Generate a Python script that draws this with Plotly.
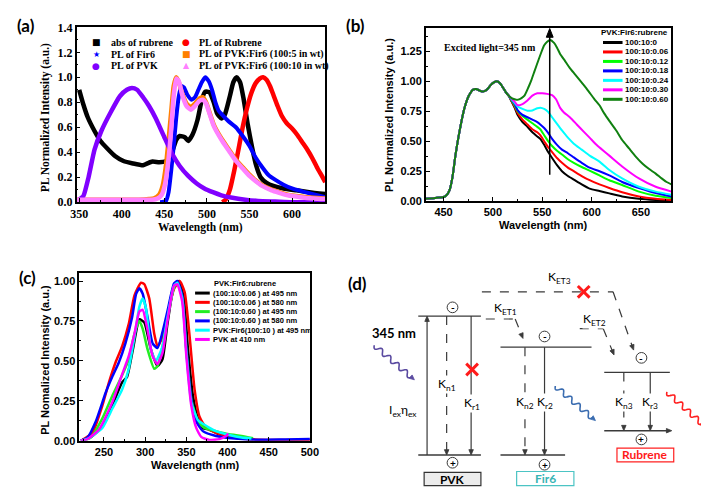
import numpy as np
import plotly.graph_objects as go

# ======================= DATA =======================
# ---- panel (a) ----
a_abs_rub_x = [350, 355, 360, 368, 375, 383, 392, 402, 413, 425, 430, 436, 444, 451, 456, 460, 464, 468, 474, 478,
               483, 489, 494, 498, 503, 508, 512, 517, 521, 527, 531, 535, 539, 543, 548, 553, 558, 563, 570, 578,
               590, 605, 620, 639]
a_abs_rub_y = [0.90, 0.78, 0.68, 0.57, 0.49, 0.43, 0.37, 0.33, 0.31, 0.295, 0.31, 0.325, 0.32, 0.325, 0.36, 0.42, 0.50,
               0.53, 0.52, 0.49, 0.54, 0.66, 0.82, 0.885, 0.88, 0.80, 0.71, 0.67, 0.70, 0.85, 0.96, 1.0, 0.96, 0.83,
               0.62, 0.44, 0.29, 0.20, 0.155, 0.13, 0.11, 0.095, 0.08, 0.065]
a_rub_pl_x = [518, 522, 527, 532, 537, 542, 547, 552, 557, 562, 566, 570, 574, 578, 583, 588, 594, 600, 606, 612,
              618, 624, 630, 635, 639]
a_rub_pl_y = [0.0, 0.02, 0.10, 0.25, 0.42, 0.60, 0.75, 0.87, 0.95, 0.99, 1.0, 0.98, 0.93, 0.86, 0.77, 0.69, 0.63,
              0.59, 0.54, 0.48, 0.42, 0.35, 0.27, 0.21, 0.16]
a_fir6_x = [445, 452, 455, 458, 461, 464, 467, 470, 473, 477, 482, 486, 490, 494, 498, 502, 506, 510, 514, 518, 525,
            534, 542, 550, 557, 565, 572, 580, 590, 600, 615, 627, 639]
a_fir6_y = [0.0, 0.01, 0.08, 0.25, 0.45, 0.68, 0.85, 0.93, 0.92, 0.86, 0.82, 0.84, 0.90, 0.96, 1.0, 0.97, 0.90, 0.80,
            0.73, 0.70, 0.65, 0.60, 0.53, 0.45, 0.36, 0.28, 0.22, 0.18, 0.14, 0.11, 0.08, 0.06, 0.04]
a_pvk_x = [350, 355, 361, 368, 376, 387, 398, 406, 412, 418, 425, 432, 440, 450, 459, 468, 478, 488, 497, 507, 517,
           530, 545, 560, 580, 600, 639]
a_pvk_y = [0.02, 0.05, 0.20, 0.42, 0.57, 0.72, 0.85, 0.90, 0.915, 0.90, 0.84, 0.77, 0.67, 0.52, 0.39, 0.29, 0.21,
           0.15, 0.11, 0.08, 0.055, 0.035, 0.02, 0.01, 0.005, 0.0, 0.0]
a_pf5_x = [347, 380, 420, 432, 438, 444, 448, 452, 455, 458, 461, 464, 467, 471, 476, 481, 486, 491, 495, 499, 503,
           508, 511, 518, 526, 534, 542, 550, 557, 565, 576, 585, 595, 610, 625, 639]
a_pf5_y = [0.02, 0.02, 0.02, 0.025, 0.03, 0.06, 0.13, 0.30, 0.50, 0.72, 0.93, 1.0, 0.96, 0.87, 0.79, 0.76, 0.79, 0.83,
           0.84, 0.80, 0.72, 0.62, 0.58, 0.50, 0.42, 0.34, 0.28, 0.22, 0.175, 0.135, 0.10, 0.08, 0.06, 0.045, 0.035,
           0.03]
a_pf10_x = [347, 380, 420, 436, 442, 447, 451, 455, 458, 461, 464, 467, 471, 476, 481, 486, 491, 495, 499, 503, 508,
            511, 518, 526, 534, 542, 550, 557, 565, 576, 585, 595, 610, 625, 639]
a_pf10_y = [0.02, 0.02, 0.02, 0.02, 0.03, 0.06, 0.15, 0.35, 0.58, 0.85, 0.99, 0.97, 0.86, 0.77, 0.74, 0.77, 0.81,
            0.82, 0.79, 0.71, 0.61, 0.57, 0.49, 0.41, 0.33, 0.27, 0.21, 0.17, 0.13, 0.095, 0.075, 0.055, 0.04, 0.03,
            0.025]
a_names = ["abs of rubrene", "PL of Rubrene", "PL of Fir6", "PL of PVK:Fir6 (100:5 in wt)", "PL of PVK",
           "PL of PVK:Fir6 (100:10 in wt)"]

# ---- panel (b) ----
b_common_x = [432, 440, 446, 450, 453, 456, 459, 462, 465, 468, 471, 474, 477, 480, 483, 486, 489, 492, 495, 498,
              501, 504, 507, 510, 513, 516]
b_common_y = [0.02, 0.025, 0.03, 0.035, 0.05, 0.09, 0.20, 0.38, 0.53, 0.66, 0.77, 0.85, 0.90, 0.93, 0.935, 0.925,
              0.915, 0.92, 0.94, 0.97, 0.99, 1.0, 0.985, 0.95, 0.91, 0.88]
b_tail_x = [519, 522, 525, 530, 535, 540, 545, 548, 552, 556, 560, 565, 570, 576, 582, 590, 598, 608, 618, 631, 648,
            665, 681]
b_tail_0 = [0.83, 0.78, 0.72, 0.66, 0.62, 0.575, 0.54, 0.52, 0.47, 0.41, 0.36, 0.30, 0.25, 0.21, 0.18, 0.14, 0.105,
            0.085, 0.065, 0.04, 0.02, 0.01, 0.005]
b_tail_006 = [0.835, 0.79, 0.735, 0.68, 0.64, 0.60, 0.575, 0.55, 0.50, 0.45, 0.41, 0.36, 0.32, 0.28, 0.25, 0.21,
              0.175, 0.14, 0.11, 0.075, 0.04, 0.02, 0.01]
b_tail_012 = [0.84, 0.80, 0.75, 0.71, 0.68, 0.65, 0.62, 0.60, 0.55, 0.50, 0.46, 0.42, 0.39, 0.35, 0.32, 0.285, 0.255,
              0.215, 0.175, 0.135, 0.08, 0.046, 0.027]
b_tail_018 = [0.845, 0.81, 0.76, 0.72, 0.70, 0.68, 0.66, 0.64, 0.61, 0.57, 0.52, 0.47, 0.43, 0.40, 0.365, 0.32, 0.28,
              0.25, 0.215, 0.16, 0.11, 0.068, 0.04]
b_tail_024 = [0.85, 0.82, 0.79, 0.77, 0.755, 0.757, 0.775, 0.78, 0.77, 0.745, 0.70, 0.645, 0.59, 0.53, 0.48, 0.43,
              0.38, 0.33, 0.26, 0.19, 0.12, 0.08, 0.054]
b_tail_030_x = [519, 522, 525, 530, 535, 540, 545, 550, 555, 560, 564, 568, 572, 578, 585, 592, 598, 605, 612, 618,
                631, 648, 665, 681]
b_tail_030 = [0.855, 0.83, 0.80, 0.81, 0.84, 0.88, 0.90, 0.90, 0.895, 0.885, 0.85, 0.78, 0.74, 0.70, 0.64, 0.58,
              0.53, 0.47, 0.42, 0.38, 0.29, 0.19, 0.12, 0.08]
b_tail_060_x = [519, 522, 525, 529, 532, 536, 539, 542, 545, 549, 552, 555, 558, 562, 565, 568, 573, 578, 583, 588,
                593, 598, 603, 608, 613, 618, 625, 631, 638, 645, 652, 658, 665, 671, 676, 681]
b_tail_060 = [0.86, 0.85, 0.845, 0.86, 0.88, 0.95, 1.01, 1.08, 1.15, 1.24, 1.30, 1.33, 1.345, 1.32, 1.28, 1.23,
              1.17, 1.11, 1.06, 1.01, 0.96, 0.905, 0.85, 0.80, 0.73, 0.67, 0.59, 0.51, 0.44, 0.37, 0.31, 0.27, 0.23,
              0.19, 0.16, 0.14]
b_names = ["100:10:0", "100:10:0.06", "100:10:0.12", "100:10:0.18", "100:10:0.24", "100:10:0.30", "100:10:0.60"]
b_arrow_wavelength = 557.6
b_arrow_from, b_arrow_to = 0.22, 1.44

# ---- panel (c) ----
c_black_x = [222, 236, 248, 260, 272, 278, 285, 293, 299, 307, 315, 321, 327, 335, 341, 347, 352, 358, 364, 370,
             378, 390, 402, 417, 431]
c_black_y = [0.0, 0.03, 0.09, 0.22, 0.365, 0.40, 0.57, 0.76, 0.74, 0.57, 0.467, 0.51, 0.73, 0.97, 1.0, 0.89, 0.57,
             0.28, 0.14, 0.08, 0.07, 0.04, 0.025, 0.014, 0.01]
c_red_x = [222, 236, 248, 256, 264, 272, 280, 287, 295, 299, 305, 311, 315, 321, 327, 335, 342, 348, 354, 360, 366,
           374, 386, 402, 425, 457, 500]
c_red_y = [0.0, 0.05, 0.22, 0.365, 0.49, 0.59, 0.73, 0.91, 0.99, 0.98, 0.89, 0.67, 0.59, 0.65, 0.79, 0.95, 1.0, 0.93,
           0.65, 0.32, 0.15, 0.08, 0.05, 0.025, 0.01, 0.005, 0.005]
c_green_x = [224, 234, 248, 260, 272, 280, 287, 293, 297, 303, 311, 315, 321, 327, 335, 339, 345, 350, 356, 364,
             372, 386, 402, 417, 431]
c_green_y = [0.0, 0.02, 0.14, 0.28, 0.41, 0.51, 0.67, 0.75, 0.70, 0.57, 0.45, 0.467, 0.59, 0.77, 0.96, 0.99, 0.90,
             0.57, 0.26, 0.12, 0.08, 0.06, 0.04, 0.03, 0.016]
c_blue_x = [222, 230, 240, 252, 260, 268, 276, 284, 289, 293, 297, 303, 309, 315, 321, 327, 335, 339, 345, 350, 356,
            362, 370, 386, 409, 437, 470, 500]
c_blue_y = [0.0, 0.02, 0.12, 0.30, 0.40, 0.49, 0.61, 0.77, 0.92, 0.955, 0.92, 0.77, 0.61, 0.58, 0.68, 0.81, 0.985,
            1.0, 0.91, 0.57, 0.26, 0.12, 0.06, 0.03, 0.014, 0.006, 0.008, 0.01]
c_cyan_x = [222, 232, 248, 260, 272, 280, 287, 293, 297, 301, 307, 313, 321, 327, 335, 339, 345, 350, 356, 364, 372,
            386, 402, 417, 429]
c_cyan_y = [0.0, 0.016, 0.08, 0.20, 0.32, 0.45, 0.65, 0.84, 0.89, 0.83, 0.57, 0.50, 0.59, 0.77, 0.97, 0.99, 0.89,
            0.55, 0.24, 0.13, 0.10, 0.06, 0.036, 0.02, 0.014]
c_mag_x = [222, 230, 244, 260, 272, 280, 287, 293, 297, 303, 309, 315, 321, 327, 335, 339, 345, 350, 356, 362, 368,
           378, 390, 398, 401]
c_mag_y = [0.0, 0.01, 0.07, 0.24, 0.415, 0.53, 0.67, 0.81, 0.82, 0.69, 0.53, 0.48, 0.55, 0.75, 0.97, 0.98, 0.87,
           0.53, 0.22, 0.08, 0.024, 0.004, 0.01, 0.03, 0.045]
c_names = ["(100:10:0.06 ) at 495 nm", "(100:10:0.06 ) at 580 nm", "(100:10:0.60 ) at 495 nm",
           "(100:10:0.60 ) at 580 nm", "PVK:Fir6(100:10 ) at 495 nm", "PVK at 410 nm"]

# ======================= STYLE / LAYOUT =======================
SERIF = "Liberation Serif, Times New Roman, serif"
SANS = "Liberation Sans, Arial, sans-serif"
DIAG = "Lato, Open Sans, sans-serif"
W, H = 709, 487


def fx(x):
    return x / W


def fy(y):
    return 1 - y / H


fig = go.Figure()
annotations = []
shapes = []
P = dict(xref="paper", yref="paper")


def add_curve(x, y, color, width, xa, ya):
    fig.add_trace(go.Scatter(x=x, y=y, mode="lines",
                             line=dict(color=color, width=width, shape="spline", smoothing=0.5),
                             xaxis=xa, yaxis=ya, showlegend=False, hoverinfo="skip"))


def text(x, y, s, size, family, color="black", xanchor="center", yanchor="middle", angle=0, bg=None):
    """Text placed at pixel position (x, y) of the figure."""
    d = dict(x=fx(x), y=fy(y), xref="paper", yref="paper", text=s, showarrow=False,
             font=dict(size=size, family=family, color=color), xanchor=xanchor, yanchor=yanchor,
             textangle=angle, borderpad=0)
    if bg:
        d["bgcolor"] = bg
    annotations.append(d)


def pline(x0, y0, x1, y1, color, width, dash=None):
    ln = dict(color=color, width=width)
    if dash:
        ln["dash"] = dash
    shapes.append(dict(type="line", x0=fx(x0), y0=fy(y0), x1=fx(x1), y1=fy(y1), line=ln, **P))


def ppath(pts, color, width, dash=None, fill=None, close=False):
    s = "M " + " L ".join("%.5f,%.5f" % (fx(a), fy(b)) for a, b in pts) + (" Z" if close else "")
    ln = dict(color=color, width=width)
    if dash:
        ln["dash"] = dash
    d = dict(type="path", path=s, line=ln, **P)
    if fill:
        d["fillcolor"] = fill
    shapes.append(d)


def head(tx, ty, ux, uy, length, half, color):
    """Filled arrowhead in pixel space, tip at (tx,ty) pointing along (ux,uy)."""
    bx, by = tx - ux * length, ty - uy * length
    ppath([(tx, ty), (bx - uy * half, by + ux * half), (bx + uy * half, by - ux * half)], color, 0.8,
          fill=color, close=True)


# ---------- panel (a) ----------
a_series = [
    (a_abs_rub_x, a_abs_rub_y, "#000000", "■", 9),
    (a_rub_pl_x, a_rub_pl_y, "#ff0000", "●", 9),
    (a_fir6_x, a_fir6_y, "#0000ff", "★", 8),
    (a_pf5_x, a_pf5_y, "#ff8000", "■", 9),
    (a_pvk_x, a_pvk_y, "#8000ff", "●", 9),
    (a_pf10_x, a_pf10_y, "#ff80ff", "▲", 8),
]
a_rows = [28.0, 40.3, 52.5]
a_cols = [(84, 98), (176, 188)]
for i, (x, y, col, sym, ssz) in enumerate(a_series):
    add_curve(x, y, col, 4.5 if i != 2 else 4, "x", "y")
    c, r = i % 2, i // 2
    kx, tx = a_cols[c]
    text(kx, a_rows[r], sym, ssz, "DejaVu Sans", color=col)
    text(tx, a_rows[r], "<b>%s</b>" % a_names[i], 10, SERIF, xanchor="left")

# ---------- panel (b) ----------
b_colors = ["#000000", "#ff0000", "#00ff00", "#0000ff", "#00ffff", "#ff00ff", "#108010"]
b_tails = [(b_tail_x, b_tail_0), (b_tail_x, b_tail_006), (b_tail_x, b_tail_012), (b_tail_x, b_tail_018),
           (b_tail_x, b_tail_024), (b_tail_030_x, b_tail_030), (b_tail_060_x, b_tail_060)]
for (tx_, ty_), col in zip(b_tails, b_colors):
    add_curve(b_common_x + tx_, b_common_y + ty_, col, 2, "x2", "y2")
text(633.7, 18.3, "<b>PVK:Fir6:rubrene</b>", 8, SANS)
for i, (nm, col) in enumerate(zip(b_names, b_colors)):
    yy = 28.3 + 9.75 * i
    pline(601.7, yy, 621.7, yy, col, 3)
    text(623.5, yy, "<b>%s</b>" % nm, 8, SANS, xanchor="left")
text(486, 33.3, "<b>Excited light=345 nm</b>", 10, SERIF)
# vertical arrow in (b), drawn on the panel's axes
B_XR, B_YR = [432, 681], [0, 1.445]
b_sy = (B_YR[1] - B_YR[0]) / (191.7 - 13.3)
b_sx = (B_XR[1] - B_XR[0]) / (671.7 - 420.7)
shapes.append(dict(type="line", xref="x2", yref="y2", x0=b_arrow_wavelength, x1=b_arrow_wavelength,
                   y0=b_arrow_from, y1=b_arrow_to - 6 * b_sy, line=dict(color="black", width=1.5)))
shapes.append(dict(type="path", xref="x2", yref="y2", fillcolor="black", line=dict(color="black", width=1),
                   path="M %.3f,%.4f L %.3f,%.4f L %.3f,%.4f Z" % (
                       b_arrow_wavelength, b_arrow_to,
                       b_arrow_wavelength - 3.5 * b_sx, b_arrow_to - 9 * b_sy,
                       b_arrow_wavelength + 3.5 * b_sx, b_arrow_to - 9 * b_sy)))

# ---------- panel (c) ----------
c_series = [(c_black_x, c_black_y, "#000000"), (c_red_x, c_red_y, "#ff0000"), (c_green_x, c_green_y, "#22ee22"),
            (c_blue_x, c_blue_y, "#0000ff"), (c_cyan_x, c_cyan_y, "#00ffff"), (c_mag_x, c_mag_y, "#ff00ff")]
for x, y, col in c_series:
    add_curve(x, y, col, 2.5, "x3", "y3")
text(236, 276.7, "<b>PVK:Fir6:rubrene</b>", 7.5, SANS)
for i, (nm, (_, _, col)) in enumerate(zip(c_names, c_series)):
    yy = 286.3 + 9.55 * i
    pline(185, yy, 200, yy, col, 3)
    text(202.3, yy, "<b>%s</b>" % nm, 7.5, SANS, xanchor="left")

# ---------- axis titles / panel labels ----------
text(33, 106, "<b>PL Normalized Intensity (a.u.)</b>", 11.5, SERIF, angle=-90)
text(191, 219, "<b>Wavelength (nm)</b>", 11.5, SERIF)
text(383, 103, "<b>PL Normalized Intensity (a.u.)</b>", 11, SANS, angle=-90)
text(541, 216, "<b>Wavelength (nm)</b>", 11, SANS)
text(31.7, 355, "<b>PL Nomalized Intensity (a.u.)</b>", 11, SANS, angle=-90)
text(185.5, 463, "<b>Wavelength (nm)</b>", 11, SANS)
for lab, (lx, ly) in zip(["(a)", "(b)", "(c)", "(d)"], [(12, 11), (349, 11), (14, 270), (351, 276)]):
    text(lx, ly, "<b>%s</b>" % lab, 17, DIAG)

# ---------- panel (d): energy diagram (figure pixel coordinates) ----------
GREY = "#3a3a3a"
levels = [(413, 477, 310), (413, 477, 453), (497, 590, 342), (497, 563, 453), (603, 670, 368)]
for x0, x1, y in levels:
    pline(x0, y, x1, y, GREY, 1.4)


def d_arrow(x0, y0, x1, y1, color=GREY, width=1.2, dash=None, hl=5.5, hw=2.3):
    L = np.hypot(x1 - x0, y1 - y0)
    ux, uy = (x1 - x0) / L, (y1 - y0) / L
    pline(x0, y0, x1 - ux * hl * 0.8, y1 - uy * hl * 0.8, color, width, dash)
    head(x1, y1, ux, uy, hl, hw, color)


d_arrow(603, 428, 672, 428, width=1.4)  # rubrene ground level with arrow

transitions = [(422, 453, 310, False), (442, 310, 453, True), (467, 310, 453, False), (522, 342, 453, True),
               (542, 342, 453, False), (623, 368, 428, True), (650, 368, 428, False)]
for x, ys, ye, dashed in transitions:
    d_arrow(x, ys, x, ye, dash="dash" if dashed else None)

et_paths = [[(482, 313), (512, 313), (520, 333)],
            [(578, 323), (602, 323), (613, 350)],
            [(478, 285), (612, 285), (633, 345)]]
for pts in et_paths:
    ppath(pts[:-1], GREY, 1.2, dash="dash")
    (xa, ya), (xb, yb) = pts[-2], pts[-1]
    d_arrow(xa, ya, xb, yb, dash="dash")

for cx, cy, sgn in [(448, 301, "-"), (542, 331, "-"), (641, 353, "-"),
                    (448, 461, "+"), (542, 463, "+"), (641, 437, "+")]:
    shapes.append(dict(type="circle", x0=fx(cx - 5.5), x1=fx(cx + 5.5), y0=fy(cy + 5.5), y1=fy(cy - 5.5),
                       line=dict(color=GREY, width=1), fillcolor="white", **P))
    text(cx, cy, "<b>%s</b>" % sgn, 10, DIAG)

boxes = [(419, 471, 477, 484.5, "#ececec", "#333333", "PVK", "black"),
         (513.5, 470, 572, 484.5, "white", "#4cc4c4", "Fir6", "#38b4b4"),
         (616, 446, 674, 460, "white", "#ff2020", "Rubrene", "#ff1a1a")]
for x0, y0, x1, y1, fill, edge, lab, tcol in boxes:
    shapes.append(dict(type="rect", x0=fx(x0), x1=fx(x1), y0=fy(y1), y1=fy(y0), fillcolor=fill,
                       line=dict(color=edge, width=1.2), **P))
    text((x0 + x1) / 2, (y0 + y1) / 2, "<b>%s</b>" % lab, 12, DIAG, color=tcol)

k_labels = [("K<sub>n1</sub>", 442, 380), ("K<sub>r1</sub>", 468, 400), ("K<sub>n2</sub>", 522, 399),
            ("K<sub>r2</sub>", 542.5, 399), ("K<sub>n3</sub>", 623, 399), ("K<sub>r3</sub>", 650, 399),
            ("K<sub>ET1</sub>", 502, 302), ("K<sub>ET2</sub>", 593, 313), ("K<sub>ET3</sub>", 557, 270),
            ("I<sub>ex</sub>η<sub>ex</sub>", 397, 407)]
for s, x, y in k_labels:
    text(x, y, s, 12, DIAG, bg="white")
text(388, 327, "<b>345 nm</b>", 13, DIAG)

for cx, cy in [(468, 365), (582, 285)]:
    pline(cx - 6, cy - 6, cx + 6, cy + 6, "#ff1a1a", 3)
    pline(cx - 6, cy + 6, cx + 6, cy - 6, "#ff1a1a", 3)

photons = [((368, 340), (406, 373), "#5a4aa0"), ((553, 382), (591, 415), "#3a6cb0"),
           ((667, 388), (703, 421), "#ff2020")]
for (x0, y0), (x1, y1), col in photons:
    L = np.hypot(x1 - x0, y1 - y0)
    ux, uy = (x1 - x0) / L, (y1 - y0) / L
    t = np.linspace(0, 1, 90)
    amp = 2.6 * np.sin(2 * np.pi * 4.5 * t)
    xs = x0 + (x1 - x0) * t - uy * amp
    ys = y0 + (y1 - y0) * t + ux * amp
    ppath(list(zip(xs, ys)), col, 1.6)
    head(x1 + 4 * ux, y1 + 4 * uy, ux, uy, 5, 2.3, col)


# ---------- axes ----------
def ax_style(family, size, rng, dtick, tick0, minor_dtick, fmt=None):
    d = dict(range=rng, showline=True, linecolor="black", linewidth=1.5, mirror=True, ticks="inside",
             ticklen=4, tickwidth=1.2, tickcolor="black", showgrid=False, zeroline=False,
             tickmode="linear", dtick=dtick, tick0=tick0,
             tickfont=dict(family=family, size=size, color="black", weight="bold"),
             minor=dict(ticks="inside", ticklen=2, tickcolor="black", dtick=minor_dtick, tick0=tick0,
                        showgrid=False))
    if fmt:
        d["tickformat"] = fmt
    return d


fig.update_layout(
    width=W, height=H, margin=dict(l=0, r=0, t=0, b=0), paper_bgcolor="white", plot_bgcolor="white",
    showlegend=False,
    xaxis=dict(domain=[fx(64), fx(318)], anchor="y", **ax_style(SERIF, 12, [347, 639], 50, 350, 25)),
    yaxis=dict(domain=[fy(192.7), fy(12.7)], anchor="x", **ax_style(SERIF, 12, [0, 1.4], 0.2, 0, 0.1, ".1f")),
    xaxis2=dict(domain=[fx(420.7), fx(671.7)], anchor="y2", **ax_style(SANS, 11, B_XR, 50, 450, 25)),
    yaxis2=dict(domain=[fy(191.7), fy(13.3)], anchor="x2",
                **ax_style(SANS, 11, B_YR, 0.25, 0, 0.125, ".2f")),
    xaxis3=dict(domain=[fx(66.7), fx(302.3)], anchor="y3", **ax_style(SANS, 11, [220, 500], 50, 250, 25)),
    yaxis3=dict(domain=[fy(438.3), fy(265.7)], anchor="x3",
                **ax_style(SANS, 11, [0, 1.05], 0.25, 0, 0.125, ".2f")),
    annotations=annotations, shapes=shapes,
)

fig.write_html("out.html")
